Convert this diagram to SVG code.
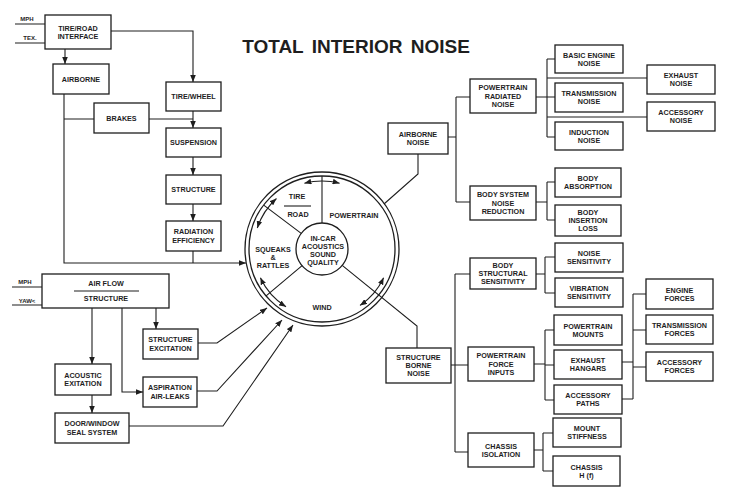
<svg xmlns="http://www.w3.org/2000/svg" width="734" height="494" viewBox="0 0 734 494">
<style>
.box{fill:#fff;stroke:#1e1e1e;stroke-width:1.3}
.ln{fill:none;stroke:#1e1e1e;stroke-width:1.1}
.ar{marker-end:url(#ah)}
.dbl{marker-start:url(#ah);marker-end:url(#ah)}
text{font-family:"Liberation Sans",Arial,sans-serif;font-weight:bold;fill:#1e1e1e}
.t{font-size:7.2px;text-anchor:middle}
.s{font-size:6px;text-anchor:middle}
.title{font-size:19px;text-anchor:middle;word-spacing:3px}
</style>
<defs>
<marker id="ah" viewBox="0 0 10 8" refX="10" refY="4" markerWidth="7" markerHeight="5.6" markerUnits="userSpaceOnUse" orient="auto-start-reverse">
<path d="M0,0 L10,4 L0,8 z" fill="#1e1e1e"/>
</marker>
</defs>
<rect width="734" height="494" fill="#fff"/>
<text class="title" x="356" y="53">TOTAL INTERIOR NOISE</text>

<g id="connectors">
<!-- left inputs -->
<path class="ln" d="M15,24 H45 M15,43 H45"/>
<path class="ln ar" d="M65,49 V64"/>
<path class="ln ar" d="M111,31 H193 V82"/>
<path class="ln ar" d="M64,94 V263 H246"/>
<path class="ln" d="M64,119 H94 M149,119 H193"/>
<path class="ln ar" d="M193,111 V128"/>
<path class="ln ar" d="M193,157 V175"/>
<path class="ln ar" d="M193,204 V221"/>
<path class="ln" d="M193,251 V263"/>
<path class="ln" d="M12,287 H42 M12,305 H42"/>
<path class="ln ar" d="M92,308 V364"/>
<path class="ln ar" d="M122,308 V392 H143"/>
<path class="ln ar" d="M156,308 V329"/>
<path class="ln ar" d="M92,395 V413"/>
<path class="ln ar" d="M198,343 H217 L267,308"/>
<path class="ln ar" d="M197,391 H217 L282,320"/>
<path class="ln ar" d="M129,426 H223 L293,325"/>
<!-- circle to right -->
<path class="ln" d="M418,154 V174 L384,204"/>
<path class="ln" d="M342.2,265.4 L417,326 V348"/>
<!-- airborne tree -->
<path class="ln" d="M448,137 H456 M456,97 V202 M456,97 H470 M456,202 H470"/>
<path class="ln" d="M536,97 H547 M547,59 V137 M547,59 H555 M547,97 H555 M547,137 H555 M547,78 H647 M547,117 H647"/>
<path class="ln" d="M536,202 H547 M547,182 V220 M547,182 H555 M547,220 H555"/>
<!-- structure borne tree -->
<path class="ln" d="M451,365 H468 M455,274 V452 M455,274 H470 M455,452 H468"/>
<path class="ln" d="M536,274 H545 M545,257 V293 M545,257 H555 M545,293 H555"/>
<path class="ln" d="M534,364 H545 M545,330 V400 M545,330 H554 M545,365 H554 M545,400 H554"/>
<path class="ln" d="M534,450 H543 M543,433 V471 M543,433 H553 M543,471 H553"/>
<path class="ln" d="M622,362 H633 M622,399 H633 M633,294 V399 M633,294 H646 M633,330 H646 M633,367 H646"/>
</g>

<g id="circle">
<circle cx="322" cy="249" r="77" fill="none" stroke="#1e1e1e" stroke-width="1.3"/>
<circle cx="322" cy="249" r="73" fill="none" stroke="#1e1e1e" stroke-width="1.3"/>
<circle cx="322" cy="249" r="26" fill="#fff" stroke="#1e1e1e" stroke-width="1.3"/>
<path class="ln" d="M322,176 V223 M263.7,205.1 L301.2,233.4 M266.1,295.9 L302.1,265.7"/>
<path class="ln" d="M284,206 H311"/>
<path class="ln dbl" d="M304.4,183.3 A68,68 0 0 1 339.6,183.3"/>
<path class="ln dbl" d="M257.3,228 A68,68 0 0 1 276.5,198.5"/>
<path class="ln dbl" d="M286,306.7 A68,68 0 0 1 260.4,277.7"/>
<path class="ln dbl" d="M383.6,277.7 A68,68 0 0 1 360,305.4"/>
<text class="t" x="297" y="199.3">TIRE</text>
<text class="t" x="298" y="216.6">ROAD</text>
<text class="t" x="354" y="217.6">POWERTRAIN</text>
<text class="t" x="273" y="252">SQUEAKS</text>
<text class="t" x="273" y="259.5">&amp;</text>
<text class="t" x="273" y="267.5">RATTLES</text>
<text class="t" x="322" y="310">WIND</text>
<text class="t" x="323" y="240.5">IN-CAR</text>
<text class="t" x="323" y="248.8">ACOUSTICS</text>
<text class="t" x="323" y="257.1">SOUND</text>
<text class="t" x="323" y="265.4">QUALITY</text>
</g>

<g id="labels">
<text class="s" x="27" y="21">MPH</text>
<text class="s" x="30" y="40">TEX.</text>
<text class="s" x="25" y="284">MPH</text>
<text class="s" x="27" y="303">YAW&lt;</text>
</g>

<g id="tireroad"><rect class="box" x="45" y="15" width="66" height="34"/><text class="t" x="78" y="30.5">TIRE/ROAD<tspan x="78" dy="8.3">INTERFACE</tspan></text></g>
<g id="airborne"><rect class="box" x="53" y="64" width="56" height="30"/><text class="t" x="81" y="81.6">AIRBORNE</text></g>
<g id="tirewheel"><rect class="box" x="166" y="82" width="55" height="29"/><text class="t" x="193.5" y="99.1">TIRE/WHEEL</text></g>
<g id="brakes"><rect class="box" x="94" y="103" width="55" height="30"/><text class="t" x="121.5" y="120.6">BRAKES</text></g>
<g id="suspension"><rect class="box" x="166" y="128" width="55" height="29"/><text class="t" x="193.5" y="145.1">SUSPENSION</text></g>
<g id="structure"><rect class="box" x="166" y="175" width="55" height="29"/><text class="t" x="193.5" y="192.1">STRUCTURE</text></g>
<g id="radiation"><rect class="box" x="166" y="221" width="55" height="30"/><text class="t" x="193.5" y="234.4">RADIATION<tspan x="193.5" dy="8.3">EFFICIENCY</tspan></text></g>
<g id="airflow"><rect class="box" x="42" y="274" width="127" height="34"/><path class="ln" d="M74,291 H139"/><text class="t" x="106" y="285.5">AIR FLOW</text><text class="t" x="106" y="301">STRUCTURE</text></g>
<g id="structexc"><rect class="box" x="143" y="329" width="55" height="30"/><text class="t" x="170.5" y="342.4">STRUCTURE<tspan x="170.5" dy="8.3">EXCITATION</tspan></text></g>
<g id="acoustic"><rect class="box" x="55" y="364" width="56" height="31"/><text class="t" x="83" y="378">ACOUSTIC<tspan x="83" dy="8.3">EXITATION</tspan></text></g>
<g id="aspiration"><rect class="box" x="143" y="377" width="54" height="30"/><text class="t" x="170" y="390.4">ASPIRATION<tspan x="170" dy="8.3">AIR-LEAKS</tspan></text></g>
<g id="doorwindow"><rect class="box" x="55" y="413" width="74" height="30"/><text class="t" x="92" y="426.4">DOOR/WINDOW<tspan x="92" dy="8.3">SEAL SYSTEM</tspan></text></g>

<g id="airbornenoise"><rect class="box" x="388" y="123" width="60" height="31"/><text class="t" x="418" y="137">AIRBORNE<tspan x="418" dy="8.3">NOISE</tspan></text></g>
<g id="ptradiated"><rect class="box" x="470" y="79" width="66" height="34"/><text class="t" x="503" y="90.3">POWERTRAIN<tspan x="503" dy="8.3">RADIATED</tspan><tspan x="503" dy="8.3">NOISE</tspan></text></g>
<g id="bodysystem"><rect class="box" x="470" y="186" width="66" height="34"/><text class="t" x="503" y="197.3">BODY SYSTEM<tspan x="503" dy="8.3">NOISE</tspan><tspan x="503" dy="8.3">REDUCTION</tspan></text></g>
<g id="basicengine"><rect class="box" x="555" y="45" width="68" height="28"/><text class="t" x="589" y="57.5">BASIC ENGINE<tspan x="589" dy="8.3">NOISE</tspan></text></g>
<g id="transnoise"><rect class="box" x="555" y="83" width="68" height="29"/><text class="t" x="589" y="96">TRANSMISSION<tspan x="589" dy="8.3">NOISE</tspan></text></g>
<g id="induction"><rect class="box" x="555" y="122" width="68" height="28"/><text class="t" x="589" y="134.5">INDUCTION<tspan x="589" dy="8.3">NOISE</tspan></text></g>
<g id="exhaustnoise"><rect class="box" x="647" y="65" width="68" height="29"/><text class="t" x="681" y="78">EXHAUST<tspan x="681" dy="8.3">NOISE</tspan></text></g>
<g id="accnoise"><rect class="box" x="647" y="102" width="68" height="29"/><text class="t" x="681" y="115">ACCESSORY<tspan x="681" dy="8.3">NOISE</tspan></text></g>
<g id="bodyabs"><rect class="box" x="555" y="168" width="66" height="29"/><text class="t" x="588" y="181">BODY<tspan x="588" dy="8.3">ABSORPTION</tspan></text></g>
<g id="bodyins"><rect class="box" x="555" y="205" width="66" height="31"/><text class="t" x="588" y="214.8">BODY<tspan x="588" dy="8.3">INSERTION</tspan><tspan x="588" dy="8.3">LOSS</tspan></text></g>
<g id="bodystruct"><rect class="box" x="470" y="258" width="66" height="31"/><text class="t" x="503" y="267.8">BODY<tspan x="503" dy="8.3">STRUCTURAL</tspan><tspan x="503" dy="8.3">SENSITIVITY</tspan></text></g>
<g id="noisesens"><rect class="box" x="555" y="243" width="68" height="29"/><text class="t" x="589" y="256">NOISE<tspan x="589" dy="8.3">SENSITIVITY</tspan></text></g>
<g id="vibsens"><rect class="box" x="555" y="278" width="68" height="29"/><text class="t" x="589" y="291">VIBRATION<tspan x="589" dy="8.3">SENSITIVITY</tspan></text></g>
<g id="structborne"><rect class="box" x="386" y="348" width="65" height="35"/><text class="t" x="418.5" y="359.8">STRUCTURE<tspan x="418.5" dy="8.3">BORNE</tspan><tspan x="418.5" dy="8.3">NOISE</tspan></text></g>
<g id="pfi"><rect class="box" x="468" y="347" width="66" height="34"/><text class="t" x="501" y="358.3">POWERTRAIN<tspan x="501" dy="8.3">FORCE</tspan><tspan x="501" dy="8.3">INPUTS</tspan></text></g>
<g id="ptmounts"><rect class="box" x="554" y="315" width="68" height="30"/><text class="t" x="588" y="328.5">POWERTRAIN<tspan x="588" dy="8.3">MOUNTS</tspan></text></g>
<g id="exhangars"><rect class="box" x="554" y="350" width="68" height="29"/><text class="t" x="588" y="363">EXHAUST<tspan x="588" dy="8.3">HANGARS</tspan></text></g>
<g id="accpaths"><rect class="box" x="554" y="385" width="68" height="29"/><text class="t" x="588" y="398">ACCESSORY<tspan x="588" dy="8.3">PATHS</tspan></text></g>
<g id="engforces"><rect class="box" x="646" y="279" width="67" height="30"/><text class="t" x="679.5" y="292.5">ENGINE<tspan x="679.5" dy="8.3">FORCES</tspan></text></g>
<g id="transforces"><rect class="box" x="646" y="315" width="67" height="29"/><text class="t" x="679.5" y="328">TRANSMISSION<tspan x="679.5" dy="8.3">FORCES</tspan></text></g>
<g id="accforces"><rect class="box" x="646" y="352" width="67" height="29"/><text class="t" x="679.5" y="365">ACCESSORY<tspan x="679.5" dy="8.3">FORCES</tspan></text></g>
<g id="chassisiso"><rect class="box" x="468" y="433" width="66" height="34"/><text class="t" x="501" y="448.5">CHASSIS<tspan x="501" dy="8.3">ISOLATION</tspan></text></g>
<g id="mountstiff"><rect class="box" x="553" y="418" width="68" height="29"/><text class="t" x="587" y="431">MOUNT<tspan x="587" dy="8.3">STIFFNESS</tspan></text></g>
<g id="chassish"><rect class="box" x="553" y="456" width="67" height="30"/><text class="t" x="586.5" y="469.5">CHASSIS<tspan x="586.5" dy="8.3">H (f)</tspan></text></g>
</svg>
